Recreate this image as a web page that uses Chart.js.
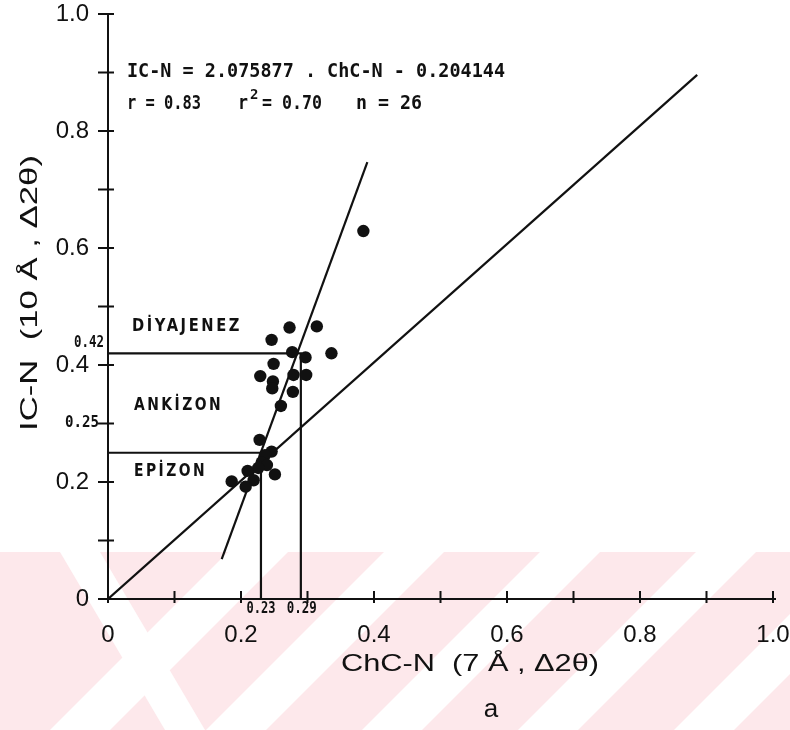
<!DOCTYPE html>
<html>
<head>
<meta charset="utf-8">
<script src="https://cdn.jsdelivr.net/npm/chart.js@4.4.1/dist/chart.umd.min.js"></script>
<style>
  html, body { margin: 0; padding: 0; background: #fff; }
  #chart { display: block; }
</style>
</head>
<body>
<canvas id="chart" width="790" height="730"></canvas>
<script>
// ChC-N (x) vs IC-N (y) measurements, 26 samples
const chcN = [0.273, 0.314, 0.246, 0.336, 0.277, 0.297, 0.249, 0.298, 0.279, 0.229,
              0.248, 0.247, 0.278, 0.260, 0.228, 0.246, 0.236, 0.231, 0.239, 0.226,
              0.210, 0.251, 0.219, 0.186, 0.207, 0.384];
const icN  = [0.464, 0.466, 0.443, 0.420, 0.422, 0.413, 0.402, 0.383, 0.383, 0.381,
              0.372, 0.360, 0.354, 0.330, 0.272, 0.252, 0.246, 0.233, 0.229, 0.224,
              0.219, 0.213, 0.203, 0.201, 0.192, 0.629];

// fitted line as drawn, and the reference diagonal
const fitX = [0.171, 0.390];
const fitY = [0.068, 0.747];
const diagX = [0, 0.886];
const diagY = [0, 0.896];

// zone limits: IC-N 0.42 / 0.25 and the matching ChC-N values
const zoneIC  = [0.42, 0.25];
const zoneChC = [0.29, 0.23];
const zoneNames = ['DİYAJENEZ', 'ANKİZON', 'EPİZON'];

const xTickLabels = ['0', '0.2', '0.4', '0.6', '0.8', '1.0'];
const yTickLabels = ['0', '0.2', '0.4', '0.6', '0.8', '1.0'];

const INK = '#111';
const toPts = (xs, ys) => xs.map((x, i) => ({ x: x, y: ys[i] }));

function lineSet(data) {
  return { data: data, showLine: true, borderColor: INK, borderWidth: 2.2,
           pointRadius: 0, fill: false, order: 2 };
}

// text helper, squeezes to a given width when asked
function put(ctx, text, x, y, font, opts) {
  opts = opts || {};
  ctx.save();
  ctx.font = font;
  ctx.fillStyle = INK;
  ctx.textBaseline = 'middle';
  ctx.letterSpacing = opts.spacing || '0px';
  ctx.translate(x, y);
  if (opts.rotate) ctx.rotate(opts.rotate);
  let w = ctx.measureText(text).width;
  let sx = opts.width ? opts.width / w : 1;
  ctx.scale(sx, 1);
  let align = opts.align || 'left';
  let off = align === 'center' ? -w / 2 : align === 'right' ? -w : 0;
  ctx.textAlign = 'left';
  ctx.fillText(text, off, 0);
  ctx.restore();
}

// faint pink stripes along the bottom of the page
const paperTint = {
  id: 'paperTint',
  beforeDraw(chart) {
    const ctx = chart.ctx;
    const W = chart.width, H = chart.height, top = 552;
    ctx.save();
    ctx.beginPath();
    ctx.rect(0, top, W, H - top);
    ctx.clip();
    ctx.fillStyle = '#fde8eb';
    ctx.fillRect(0, top, W, H - top);
    ctx.fillStyle = '#fff';
    // white "/" bands, one every 156px along x + y
    for (let c = 810; c < W + H; c += 156) {
      ctx.beginPath();
      ctx.moveTo(c - 30 - top, top); ctx.lineTo(c + 30 - top, top);
      ctx.lineTo(c + 30 - H, H); ctx.lineTo(c - 30 - H, H);
      ctx.closePath();
      ctx.fill();
    }
    // one "\" band at the left
    ctx.beginPath();
    ctx.moveTo(60, top); ctx.lineTo(100, top);
    ctx.lineTo(205, H); ctx.lineTo(165, H);
    ctx.closePath();
    ctx.fill();
    ctx.restore();
  }
};

const plotterMarks = {
  id: 'plotterMarks',
  afterDraw(chart) {
    const ctx = chart.ctx;
    const xs = chart.scales.x, ys = chart.scales.y;
    const x0 = xs.getPixelForValue(0), y0 = ys.getPixelForValue(0);

    // tick crosses on both axes
    ctx.save();
    ctx.strokeStyle = INK;
    ctx.lineWidth = 2;
    for (let i = 0; i <= 10; i++) {
      const px = xs.getPixelForValue(i / 10);
      const py = ys.getPixelForValue(i / 10);
      ctx.beginPath();
      ctx.moveTo(px, y0 - 8); ctx.lineTo(px, y0 + 4);
      ctx.moveTo(x0 - 10, py); ctx.lineTo(x0 + 6, py);
      ctx.stroke();
    }
    // x axis runs a little past 1.0
    ctx.beginPath();
    ctx.moveTo(xs.getPixelForValue(1), y0);
    ctx.lineTo(xs.getPixelForValue(1) + 3, y0);
    ctx.stroke();
    ctx.restore();

    const mono = 'bold 20px "DejaVu Sans Mono"';
    const small = 'bold 15px "DejaVu Sans Mono"';

    // regression text
    put(ctx, 'IC-N = 2.075877 . ChC-N - 0.204144', 127, 72, mono, { width: 378 });
    put(ctx, 'r = 0.83', 127, 104, mono, { width: 74 });
    put(ctx, 'r', 238, 104, mono, { width: 10 });
    put(ctx, '2', 250, 95, 'bold 14px "DejaVu Sans Mono"');
    put(ctx, '= 0.70', 262, 104, mono, { width: 60 });
    put(ctx, 'n = 26', 356, 104, mono, { width: 66 });

    // zone names
    const lab = 'bold 17px "DejaVu Sans"';
    put(ctx, zoneNames[0], 132, 327, lab, { width: 110, spacing: '3px' });
    put(ctx, zoneNames[1], 134, 406, lab, { width: 89, spacing: '3px' });
    put(ctx, zoneNames[2], 134, 472, lab, { width: 73, spacing: '3px' });

    // limit values next to the axes
    put(ctx, '0.42', 89, ys.getPixelForValue(zoneIC[0]) - 10, small, { align: 'center', width: 30 });
    put(ctx, '0.25', 99, ys.getPixelForValue(0.3), small, { align: 'right', width: 34 });
    put(ctx, '0.23', xs.getPixelForValue(zoneChC[1]), y0 + 10, small, { align: 'center', width: 29 });
    put(ctx, '0.29', xs.getPixelForValue(zoneChC[0]) + 1, y0 + 10, small, { align: 'center', width: 30 });

    // axis titles
    const ttl = '24px "Liberation Sans"';
    put(ctx, 'ChC-N  (7 Å , Δ2θ)', 470, 664, ttl, { align: 'center', width: 258 });
    put(ctx, 'IC-N  (10 Å , Δ2θ)', 30, 293, ttl, { align: 'center', width: 276, rotate: -Math.PI / 2 });
    put(ctx, 'a', 491, 710, '26px "Liberation Sans"', { align: 'center' });
  }
};

function tickText(labels) {
  return function (value) {
    const k = Math.round(value * 10);
    return k % 2 === 0 ? labels[k / 2] : '';
  };
}

// keep the plot box fixed, labels may overhang it
function fixBox(size, key) {
  return function (s) {
    s[key] = size;
    s.paddingLeft = 0; s.paddingRight = 0; s.paddingTop = 0; s.paddingBottom = 0;
  };
}

const ctx = document.getElementById('chart').getContext('2d');
new Chart(ctx, {
  type: 'scatter',
  data: {
    datasets: [
      { data: toPts(chcN, icN), backgroundColor: INK, borderWidth: 0, pointRadius: 6.2, order: 1 },
      lineSet(toPts(fitX, fitY)),
      lineSet(toPts(diagX, diagY)),
      lineSet([{ x: 0, y: zoneIC[0] }, { x: zoneChC[0], y: zoneIC[0] }, { x: zoneChC[0], y: 0 }]),
      lineSet([{ x: 0, y: zoneIC[1] }, { x: zoneChC[1], y: zoneIC[1] }, { x: zoneChC[1], y: 0 }])
    ]
  },
  options: {
    responsive: false,
    animation: false,
    devicePixelRatio: 1,
    layout: { padding: { top: 14, right: 17, left: 0, bottom: 0 } },
    plugins: { legend: { display: false }, tooltip: { enabled: false } },
    scales: {
      x: {
        type: 'linear', min: 0, max: 1,
        afterFit: fixBox(131, 'height'),
        grid: { drawOnChartArea: false, drawTicks: false },
        border: { display: true, color: INK, width: 2 },
        ticks: { stepSize: 0.1, autoSkip: false, maxRotation: 0, padding: 22, color: INK,
                 font: { family: 'Liberation Sans', size: 24 }, callback: tickText(xTickLabels) }
      },
      y: {
        type: 'linear', min: 0, max: 1,
        afterFit: fixBox(108, 'width'),
        grid: { drawOnChartArea: false, drawTicks: false },
        border: { display: true, color: INK, width: 2 },
        ticks: { stepSize: 0.1, autoSkip: false, padding: 19, color: INK,
                 font: { family: 'Liberation Sans', size: 24 }, callback: tickText(yTickLabels) }
      }
    }
  },
  plugins: [paperTint, plotterMarks]
});
</script>
</body>
</html>
